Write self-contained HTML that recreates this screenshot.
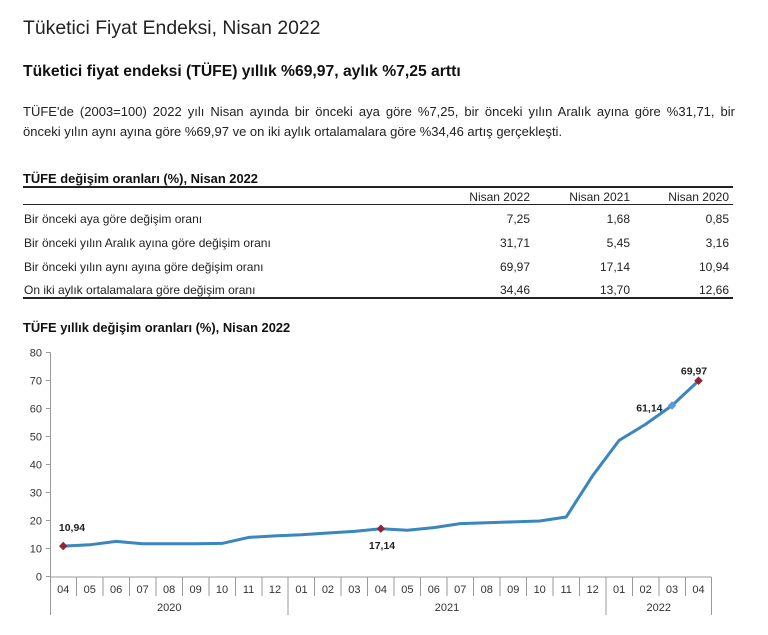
<!DOCTYPE html>
<html>
<head>
<meta charset="utf-8">
<style>
  html,body{margin:0;padding:0;background:#fff;}
  body{width:768px;height:635px;position:relative;overflow:hidden;font-family:"Liberation Sans",Arial,sans-serif;color:#222;}
  .a{position:absolute;white-space:nowrap;}
  .t1{left:23px;top:17px;font-size:19.4px;line-height:22px;color:#222;}
  .t2{left:23px;top:62px;font-size:15.7px;line-height:20px;font-weight:bold;color:#111;}
  .p1{position:absolute;left:23px;top:102px;width:712px;font-size:13px;line-height:19.5px;text-align:justify;text-align-last:justify;color:#222;white-space:nowrap;}
  .p2{position:absolute;left:23px;top:121.5px;font-size:13px;line-height:19.5px;color:#222;white-space:nowrap;}
  .tt{left:23px;top:171px;font-size:12.9px;line-height:16px;font-weight:bold;color:#111;}
  .ct{left:23px;top:320px;font-size:12.9px;line-height:16px;font-weight:bold;color:#111;}
  .line{position:absolute;left:23px;width:710px;background:#222;}
  .c{position:absolute;font-size:12px;line-height:14px;white-space:nowrap;color:#222;}
  .r{text-align:right;width:100px;}
</style>
</head>
<body>
<div class="a t1">Tüketici Fiyat Endeksi, Nisan 2022</div>
<div class="a t2">Tüketici fiyat endeksi (TÜFE) yıllık %69,97, aylık %7,25 arttı</div>
<div class="p1">TÜFE'de (2003=100) 2022 yılı Nisan ayında bir önceki aya göre %7,25, bir önceki yılın Aralık ayına göre %31,71, bir</div>
<div class="p2">önceki yılın aynı ayına göre %69,97 ve on iki aylık ortalamalara göre %34,46 artış gerçekleşti.</div>

<div class="a tt">TÜFE değişim oranları (%), Nisan 2022</div>
<div class="line" style="top:186px;height:2px;"></div>
<div class="line" style="top:204px;height:1px;"></div>
<div class="line" style="top:297px;height:2px;"></div>

<div class="c r" style="left:430px;top:190px;">Nisan 2022</div>
<div class="c r" style="left:530px;top:190px;">Nisan 2021</div>
<div class="c r" style="left:629px;top:190px;">Nisan 2020</div>

<div class="c" style="left:24px;top:212px;">Bir önceki aya göre değişim oranı</div>
<div class="c r" style="left:430px;top:212px;">7,25</div>
<div class="c r" style="left:530px;top:212px;">1,68</div>
<div class="c r" style="left:629px;top:212px;">0,85</div>

<div class="c" style="left:24px;top:236px;">Bir önceki yılın Aralık ayına göre değişim oranı</div>
<div class="c r" style="left:430px;top:236px;">31,71</div>
<div class="c r" style="left:530px;top:236px;">5,45</div>
<div class="c r" style="left:629px;top:236px;">3,16</div>

<div class="c" style="left:24px;top:260px;">Bir önceki yılın aynı ayına göre değişim oranı</div>
<div class="c r" style="left:430px;top:260px;">69,97</div>
<div class="c r" style="left:530px;top:260px;">17,14</div>
<div class="c r" style="left:629px;top:260px;">10,94</div>

<div class="c" style="left:24px;top:283px;">On iki aylık ortalamalara göre değişim oranı</div>
<div class="c r" style="left:430px;top:283px;">34,46</div>
<div class="c r" style="left:530px;top:283px;">13,70</div>
<div class="c r" style="left:629px;top:283px;">12,66</div>

<div class="a ct">TÜFE yıllık değişim oranları (%), Nisan 2022</div>

<svg style="position:absolute;left:0;top:0;" width="768" height="635" viewBox="0 0 768 635" xmlns="http://www.w3.org/2000/svg">
  <g stroke="#9a9a9a" stroke-width="1" fill="none" shape-rendering="crispEdges">
    <line x1="50.5" y1="352.7" x2="50.5" y2="577"/>
    <line x1="46" y1="352.7" x2="50.5" y2="352.7"/>
    <line x1="46" y1="380.7" x2="50.5" y2="380.7"/>
    <line x1="46" y1="408.7" x2="50.5" y2="408.7"/>
    <line x1="46" y1="436.7" x2="50.5" y2="436.7"/>
    <line x1="46" y1="464.7" x2="50.5" y2="464.7"/>
    <line x1="46" y1="492.7" x2="50.5" y2="492.7"/>
    <line x1="46" y1="520.7" x2="50.5" y2="520.7"/>
    <line x1="46" y1="548.7" x2="50.5" y2="548.7"/>
    <line x1="46" y1="576.7" x2="50.5" y2="576.7"/>
    <line x1="50.5" y1="577" x2="711.7" y2="577"/>
    <line x1="50.5" y1="577" x2="50.5" y2="615"/>
    <line x1="288.2" y1="577" x2="288.2" y2="615"/>
    <line x1="605.9" y1="577" x2="605.9" y2="615"/>
    <line x1="711.7" y1="577" x2="711.7" y2="615"/>
    <line x1="76.47" y1="577" x2="76.47" y2="596"/>
    <line x1="102.94" y1="577" x2="102.94" y2="596"/>
    <line x1="129.41" y1="577" x2="129.41" y2="596"/>
    <line x1="155.88" y1="577" x2="155.88" y2="596"/>
    <line x1="182.35" y1="577" x2="182.35" y2="596"/>
    <line x1="208.82" y1="577" x2="208.82" y2="596"/>
    <line x1="235.29" y1="577" x2="235.29" y2="596"/>
    <line x1="261.76" y1="577" x2="261.76" y2="596"/>
    <line x1="314.70" y1="577" x2="314.70" y2="596"/>
    <line x1="341.17" y1="577" x2="341.17" y2="596"/>
    <line x1="367.64" y1="577" x2="367.64" y2="596"/>
    <line x1="394.11" y1="577" x2="394.11" y2="596"/>
    <line x1="420.58" y1="577" x2="420.58" y2="596"/>
    <line x1="447.05" y1="577" x2="447.05" y2="596"/>
    <line x1="473.52" y1="577" x2="473.52" y2="596"/>
    <line x1="499.99" y1="577" x2="499.99" y2="596"/>
    <line x1="526.46" y1="577" x2="526.46" y2="596"/>
    <line x1="552.93" y1="577" x2="552.93" y2="596"/>
    <line x1="579.40" y1="577" x2="579.40" y2="596"/>
    <line x1="632.34" y1="577" x2="632.34" y2="596"/>
    <line x1="658.81" y1="577" x2="658.81" y2="596"/>
    <line x1="685.28" y1="577" x2="685.28" y2="596"/>
  </g>

  <g font-family="Liberation Sans, Arial, sans-serif" font-size="11" fill="#333" text-anchor="end">
    <text x="42" y="356.7">80</text>
    <text x="42" y="384.7">70</text>
    <text x="42" y="412.7">60</text>
    <text x="42" y="440.7">50</text>
    <text x="42" y="468.7">40</text>
    <text x="42" y="496.7">30</text>
    <text x="42" y="524.7">20</text>
    <text x="42" y="552.7">10</text>
    <text x="42" y="580.7">0</text>
  </g>

  <g font-family="Liberation Sans, Arial, sans-serif" font-size="11" fill="#333" text-anchor="middle">
    <text x="63.24" y="593">04</text>
    <text x="89.71" y="593">05</text>
    <text x="116.18" y="593">06</text>
    <text x="142.65" y="593">07</text>
    <text x="169.12" y="593">08</text>
    <text x="195.59" y="593">09</text>
    <text x="222.06" y="593">10</text>
    <text x="248.53" y="593">11</text>
    <text x="275.00" y="593">12</text>
    <text x="301.47" y="593">01</text>
    <text x="327.94" y="593">02</text>
    <text x="354.41" y="593">03</text>
    <text x="380.88" y="593">04</text>
    <text x="407.35" y="593">05</text>
    <text x="433.82" y="593">06</text>
    <text x="460.29" y="593">07</text>
    <text x="486.76" y="593">08</text>
    <text x="513.23" y="593">09</text>
    <text x="539.70" y="593">10</text>
    <text x="566.17" y="593">11</text>
    <text x="592.64" y="593">12</text>
    <text x="619.11" y="593">01</text>
    <text x="645.58" y="593">02</text>
    <text x="672.05" y="593">03</text>
    <text x="698.52" y="593">04</text>
    <text x="169.3" y="611">2020</text>
    <text x="447" y="611">2021</text>
    <text x="658.8" y="611">2022</text>
  </g>

  <polyline fill="none" stroke="#3a86bd" stroke-width="3" stroke-linejoin="round" stroke-linecap="round"
    points="63.24,546.07 89.71,544.81 116.18,541.36 142.65,543.77 169.12,543.74 195.59,543.80 222.06,543.41 248.53,537.42 275.00,535.82 301.47,534.78 327.94,532.99 354.41,531.37 380.88,528.71 407.35,530.25 433.82,527.62 460.29,523.64 486.76,522.80 513.23,521.88 539.70,521.01 566.17,517.03 592.64,475.68 619.11,440.37 645.58,424.27 672.05,405.51 698.52,380.78"/>

  <g fill="#8e2436">
    <polygon points="63.24,541.8 67.5,546.07 63.24,550.3 59.0,546.07"/>
    <polygon points="380.88,524.5 385.1,528.71 380.88,532.9 376.6,528.71"/>
    <polygon points="698.52,376.5 702.8,380.78 698.52,385.0 694.2,380.78"/>
  </g>
  <polygon fill="#5b9bd5" points="672.05,401.2 676.3,405.51 672.05,409.8 667.8,405.51"/>

  <g font-family="Liberation Sans, Arial, sans-serif" font-size="10.5" font-weight="bold" fill="#222">
    <text x="72" y="531" text-anchor="middle">10,94</text>
    <text x="382" y="549" text-anchor="middle">17,14</text>
    <text x="662.5" y="411.5" text-anchor="end">61,14</text>
    <text x="694" y="374.5" text-anchor="middle">69,97</text>
  </g>
</svg>
</body>
</html>
